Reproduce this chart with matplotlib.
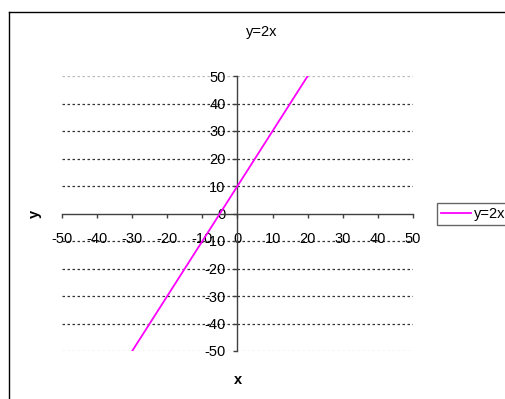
import matplotlib
matplotlib.use("Agg")

import matplotlib.pyplot as plt
from matplotlib.lines import Line2D

x_vals = [-30, -20, -10, 0, 10, 20]
y_vals = [-50, -30, -10, 10, 30, 50]
series_name = "y=2x"
ticks = [-50, -40, -30, -20, -10, 0, 10, 20, 30, 40, 50]

plt.rcParams["font.family"] = ["Liberation Sans", "DejaVu Sans"]
plt.rcParams["axes.unicode_minus"] = False

W, H = 506, 399
fig = plt.figure(figsize=(W / 100, H / 100), dpi=100)
ax = fig.add_axes([62 / W, 1 - 351 / H, (413 - 62) / W, (351 - 76) / H])

# gridlines (outer ones lighter, as in the original)
for t in ticks:
    if t == 0:
        continue
    col = "#bbbbbb" if abs(t) == 50 else "#333333"
    ax.axhline(t, color=col, linestyle=(0, (2, 2)), linewidth=0.9, zorder=1)

ax.plot(x_vals, y_vals, color="#ff00ff", linewidth=1.3, zorder=3, label=series_name)

ax.set_xlim(-50, 50)
ax.set_ylim(-50, 50)
ax.set_xticks(ticks)
ax.set_yticks(ticks)
ax.tick_params(labelsize=10.5, length=3, width=1, colors="#404040", labelcolor="black")
ax.tick_params(axis="x", direction="out", pad=10)
ax.tick_params(axis="y", direction="out", pad=5.5)

for side in ("top", "right"):
    ax.spines[side].set_visible(False)
ax.spines["left"].set_position(("data", 0))
ax.spines["bottom"].set_position(("data", 0))
for side in ("left", "bottom"):
    ax.spines[side].set_color("#404040")
    ax.spines[side].set_linewidth(1.0)
ax.patch.set_alpha(0)

fig.text(262 / W, 1 - 32 / H, "y=2x", ha="center", va="center", fontsize=10.5)
fig.text(238 / W, 1 - 380 / H, "x", ha="center", va="center", fontsize=10.5, fontweight="bold")
fig.text(35 / W, 1 - 214 / H, "y", ha="center", va="center", fontsize=10.5,
         fontweight="bold", rotation=90)

leg = fig.legend(loc="center left", bbox_to_anchor=(437 / W, 1 - 214 / H),
                 fontsize=10.5, frameon=True, fancybox=False, borderaxespad=0,
                 handlelength=2.0, handletextpad=0.2, borderpad=0.3)
leg.get_frame().set_edgecolor("#404040")
leg.get_frame().set_linewidth(1.0)

# outer chart border: only left and top edges are visible in the crop
bx, by = 8.5 / W, 1 - 11.5 / H
fig.add_artist(Line2D([bx, bx], [0, by], transform=fig.transFigure, color="black", linewidth=1.0))
fig.add_artist(Line2D([bx, 1], [by, by], transform=fig.transFigure, color="black", linewidth=1.0))

fig.savefig("out.png", dpi=100)
plt.close(fig)
